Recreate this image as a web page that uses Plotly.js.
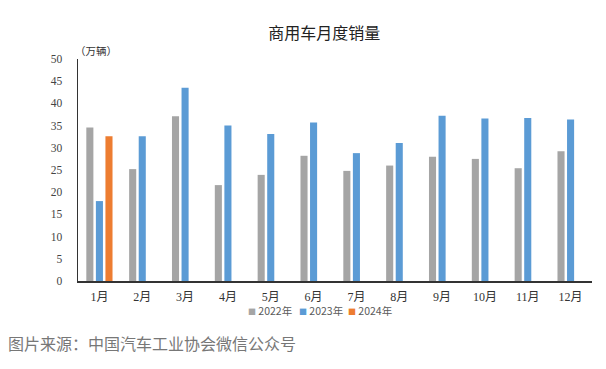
<!DOCTYPE html>
<html><head><meta charset="utf-8">
<script src="https://cdn.plot.ly/plotly-3.0.1.min.js"></script>
<style>html,body{margin:0;padding:0;background:#fff;}#chart{width:606px;height:369px;}</style>
</head><body><div id="chart"></div>
<script>
const months = ['1月','2月','3月','4月','5月','6月','7月','8月','9月','10月','11月','12月'];
const sales2022 = [34.6, 25.2, 37.1, 21.6, 23.9, 28.2, 24.8, 26.0, 28.0, 27.5, 25.4, 29.2];
const sales2023 = [18.0, 32.6, 43.5, 35.0, 33.1, 35.7, 28.8, 31.1, 37.2, 36.6, 36.7, 36.4];
const sales2024 = [32.6, null, null, null, null, null, null, null, null, null, null, null];
const seriesNames = ['2022年','2023年','2024年'];
const colors = ['#A5A5A5','#5B9BD5','#ED7D31'];
const yTicks = [0,5,10,15,20,25,30,35,40,45,50];

const serif = 'Liberation Serif, Times New Roman, Noto Sans CJK SC, serif';
const data = [sales2022, sales2023, sales2024].map((v,i)=>({
  type:'bar', x:months, y:v, name:seriesNames[i], marker:{color:colors[i]}
}));
const legendX = [0.3735, 0.4718, 0.569];
const legendAnn = seriesNames.map((n,i)=>({
  text:'<span style="color:'+colors[i]+';font-size:8px">■</span> '+n,
  xref:'paper', yref:'paper', x:legendX[i], y:-0.135, xanchor:'center', yanchor:'middle',
  showarrow:false, font:{family:'Noto Sans CJK SC, sans-serif', size:10.5, color:'#595959'}
}));
const layout = {
  width:606, height:369,
  margin:{l:78, r:14, t:59, b:88},
  paper_bgcolor:'#fff', plot_bgcolor:'#fff',
  barmode:'group', bargap:0.33, bargroupgap:0.26,
  title:{text:'商用车月度销量', x:0.535, xanchor:'center', y:0.91, yanchor:'middle',
    font:{family:'Noto Sans CJK SC, sans-serif', size:16, color:'#222'}},
  xaxis:{showgrid:false, showline:true, linecolor:'#333', linewidth:1.5, ticks:'',
    ticklabelstandoff:4,
    tickfont:{family:serif, size:12, color:'#333'}, fixedrange:true},
  yaxis:{range:[0,50], tickvals:yTicks, showgrid:false, zeroline:false, showline:true,
    linecolor:'#333', linewidth:1.5, ticks:'', ticklen:0, ticklabelstandoff:12,
    tickfont:{family:serif, size:11.5, color:'#444'}, fixedrange:true},
  showlegend:false,
  annotations:[
    {text:'（万辆）', xref:'paper', yref:'paper', x:-0.01, y:1.04, xanchor:'left', yanchor:'middle',
      showarrow:false, font:{family:'Noto Sans CJK SC, sans-serif', size:10.5, color:'#333'}},
    {text:'图片来源：中国汽车工业协会微信公众号', xref:'paper', yref:'paper', x:-0.14, y:-0.28,
      xanchor:'left', yanchor:'middle', showarrow:false,
      font:{family:'Noto Sans CJK SC, sans-serif', size:16, color:'#777'}}
  ].concat(legendAnn)
};
Plotly.newPlot('chart', data, layout, {displayModeBar:false, staticPlot:true});
</script></body></html>
